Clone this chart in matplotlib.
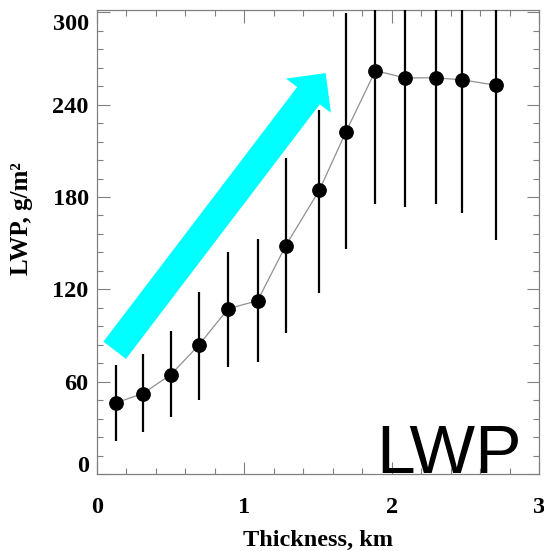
import matplotlib
matplotlib.use("Agg")
import matplotlib.pyplot as plt
from matplotlib.patches import FancyArrow
from matplotlib.transforms import IdentityTransform, ScaledTranslation
import numpy as np

# Cloud layer thickness (km) and mean liquid water path (g/m^2)
thickness = [0.13, 0.31, 0.50, 0.69, 0.89, 1.09, 1.28, 1.51, 1.69, 1.89, 2.09, 2.30, 2.48, 2.71]
lwp_mean = [46.3, 52.2, 64.5, 83.6, 107.4, 112.6, 148.2, 184.6, 222.4, 262.1, 257.4, 257.4, 256.1, 252.6]
lwp_low = [21.6, 27.5, 37.2, 48.3, 69.5, 72.7, 91.4, 117.4, 146.2, 175.2, 173.7, 175.4, 169.4, 152.1]
lwp_high = [70.6, 77.7, 92.9, 118.1, 144.4, 152.5, 205.1, 236.6, 299.3, 349.0, 341.1, 339.4, 342.8, 353.1]

x_ticks = [0, 1, 2, 3]
y_ticks = [0, 60, 120, 180, 240, 300]

DPI = 100
fig = plt.figure(figsize=(5.44, 5.51), dpi=DPI)
ax = fig.add_axes([97 / 544, 77 / 551, 442 / 544, 464 / 551])

serif = "Liberation Serif"
axis_grey = "#808080"

x = np.array(thickness)
y = np.array(lwp_mean)
lo = y - np.array(lwp_low)
hi = np.array(lwp_high) - y

ax.plot(x, y, color="#909090", lw=0.9, zorder=2)
ax.errorbar(x, y, yerr=[lo, hi], fmt="none", ecolor="black", elinewidth=1.6,
            capsize=0, zorder=3)
ax.plot(x, y, "o", color="black", ms=9.6, zorder=4)

ax.set_xlim(0, 3)
ax.set_ylim(0, 301.5)

ax.set_xticks(x_ticks)
ax.set_yticks(y_ticks)
ax.set_xticks(np.arange(0, 3.001, 0.2), minor=True)
ax.set_yticks(np.arange(0, 301, 12), minor=True)
ax.set_xticklabels([str(v) for v in x_ticks])
ax.set_yticklabels([str(v) for v in y_ticks])

ax.tick_params(which="both", direction="in", color=axis_grey, top=True, right=True, width=0.8)
ax.tick_params(which="major", length=9)
ax.tick_params(which="minor", length=4.5)
ax.tick_params(axis="x", which="major", pad=16.5)
ax.tick_params(axis="y", which="major", pad=6)
for lab in ax.get_xticklabels() + ax.get_yticklabels():
    lab.set_fontfamily(serif)
    lab.set_fontweight("bold")
    lab.set_fontsize(17.5)

# nudge the end labels on the y axis inward
ylabs = ax.get_yticklabels()
ylabs[0].set_transform(ylabs[0].get_transform() + ScaledTranslation(0, 7 / 72, fig.dpi_scale_trans))
ylabs[-1].set_transform(ylabs[-1].get_transform() + ScaledTranslation(0, -7 / 72, fig.dpi_scale_trans))

for sp in ax.spines.values():
    sp.set_color(axis_grey)
    sp.set_linewidth(0.9)

ax.set_xlabel("Thickness, km", fontfamily=serif, fontweight="bold", fontsize=17.5)
ax.xaxis.set_label_coords(0.5, -0.121)
ax.set_ylabel("LWP, g/m²", fontfamily=serif, fontweight="bold", fontsize=18)
ax.yaxis.set_label_coords(-0.145, 0.551)

ax.text(1.895, 0.5, "LWP", fontfamily="Liberation Sans", fontsize=50, color="black",
        ha="left", va="baseline", zorder=5)

# trend arrow, laid out in display pixels so its shape is not stretched
fig.canvas.draw()
tail = ax.transData.transform((0.120, 80.4))
tip = ax.transData.transform((1.552, 260.5))
d = tip - tail
arrow = FancyArrow(tail[0], tail[1], d[0], d[1], width=28.4, head_width=56.4,
                   head_length=28.4, length_includes_head=True,
                   color="#00FFFF", lw=0, transform=IdentityTransform(), zorder=1)
ax.add_patch(arrow)

fig.savefig("out.png", dpi=DPI)
